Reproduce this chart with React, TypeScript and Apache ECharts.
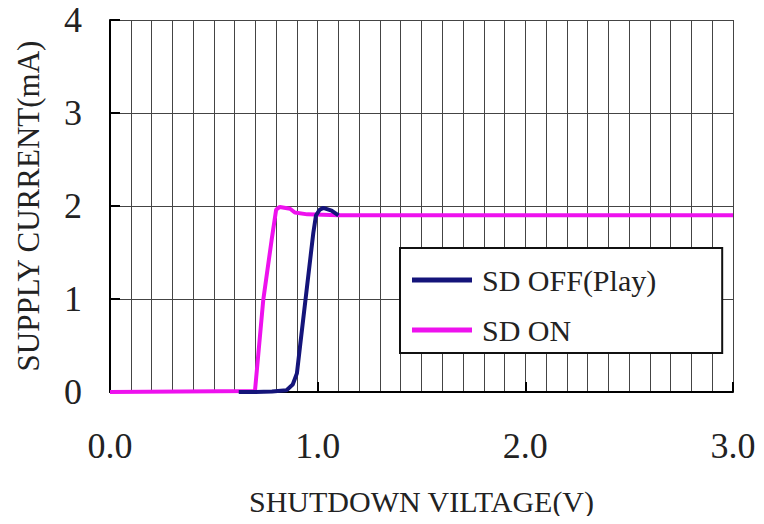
import React, { useEffect, useRef } from "react";
import * as echarts from "echarts";

const xTickLabels = ["0.0", "1.0", "2.0", "3.0"];
const yTickLabels = ["0", "1", "2", "3", "4"];
const seriesNames = ["SD OFF(Play)", "SD ON"];

const sdOffV = [0.62, 0.7, 0.78, 0.85, 0.88, 0.9, 0.915, 0.947, 0.979, 0.992, 1.01, 1.027, 1.067, 1.1];
const sdOffI = [0, 0, 0.005, 0.02, 0.08, 0.2, 0.49, 1.1, 1.71, 1.9, 1.96, 1.98, 1.95, 1.9];

const sdOnV = [0, 0.698, 0.738, 0.778, 0.8, 0.818, 0.867, 0.89, 0.95, 1.1, 1.5, 2.0, 2.5, 3.0];
const sdOnI = [0, 0.01, 0.99, 1.63, 1.96, 1.99, 1.97, 1.93, 1.91, 1.9, 1.9, 1.9, 1.9, 1.9];

const FONT = "'Liberation Serif', 'Times New Roman', serif";
const TEXT = "#222";
const GRID = "#444";

export default function App() {
  const ref = useRef<HTMLDivElement>(null);
  useEffect(() => {
    if (!ref.current) return;
    const chart = echarts.init(ref.current, null, { renderer: "svg" });
    const offData = sdOffV.map((v, i) => [v, sdOffI[i]]);
    const onData = sdOnV.map((v, i) => [v, sdOnI[i]]);
    chart.setOption({
      animation: false,
      backgroundColor: "#ffffff",
      grid: { left: 110, right: 31, top: 20, bottom: 132 },
      legend: {
        left: 400,
        top: 248,
        orient: "vertical",
        data: [seriesNames[0], seriesNames[1]],
        backgroundColor: "#ffffff",
        borderColor: "#111",
        borderWidth: 2,
        borderRadius: 0,
        padding: [17, 66, 8, 12],
        itemWidth: 60,
        itemHeight: 5,
        itemGap: 20,
        icon: "rect",
        textStyle: {
          fontFamily: FONT,
          fontSize: 30,
          lineHeight: 30,
          color: TEXT,
          padding: [0, 0, 0, 5],
        },
      },
      xAxis: {
        type: "value",
        min: 0,
        max: 3,
        interval: 1,
        name: "SHUTDOWN VILTAGE(V)",
        nameLocation: "middle",
        nameGap: 94,
        nameTextStyle: { fontFamily: FONT, fontSize: 30, color: TEXT },
        axisLine: { show: true, onZero: false, lineStyle: { color: "#000", width: 2 } },
        axisTick: { show: true, inside: true, length: 10, lineStyle: { color: "#000", width: 2 } },
        axisLabel: {
          fontFamily: FONT,
          fontSize: 36,
          color: TEXT,
          margin: 36,
          formatter: (v: number) => xTickLabels[Math.round(v)] ?? "",
        },
        splitLine: { show: true, lineStyle: { color: GRID, width: 1 } },
        minorTick: { show: false, splitNumber: 10 },
        minorSplitLine: { show: true, lineStyle: { color: GRID, width: 1 } },
      },
      yAxis: {
        type: "value",
        min: 0,
        max: 4,
        interval: 1,
        name: "SUPPLY CURRENT(mA)",
        nameLocation: "middle",
        nameGap: 66,
        nameTextStyle: { fontFamily: FONT, fontSize: 31, color: TEXT },
        axisLine: { show: true, lineStyle: { color: "#000", width: 2 } },
        axisTick: { show: true, inside: true, length: 10, lineStyle: { color: "#000", width: 2 } },
        axisLabel: {
          fontFamily: FONT,
          fontSize: 36,
          color: TEXT,
          margin: 28,
          formatter: (v: number) => yTickLabels[Math.round(v)] ?? "",
        },
        splitLine: { show: true, lineStyle: { color: GRID, width: 1 } },
      },
      series: [
        {
          name: seriesNames[1],
          type: "line",
          data: onData,
          showSymbol: false,
          symbol: "none",
          color: "#ee11ee",
          lineStyle: { color: "#ee11ee", width: 4 },
          z: 3,
        },
        {
          name: seriesNames[0],
          type: "line",
          data: offData,
          showSymbol: false,
          symbol: "none",
          color: "#14147a",
          lineStyle: { color: "#14147a", width: 4 },
          z: 4,
        },
      ],
    });
    return () => chart.dispose();
  }, []);
  return <div ref={ref} style={{ width: 764, height: 524, margin: -8 }} />;
}
